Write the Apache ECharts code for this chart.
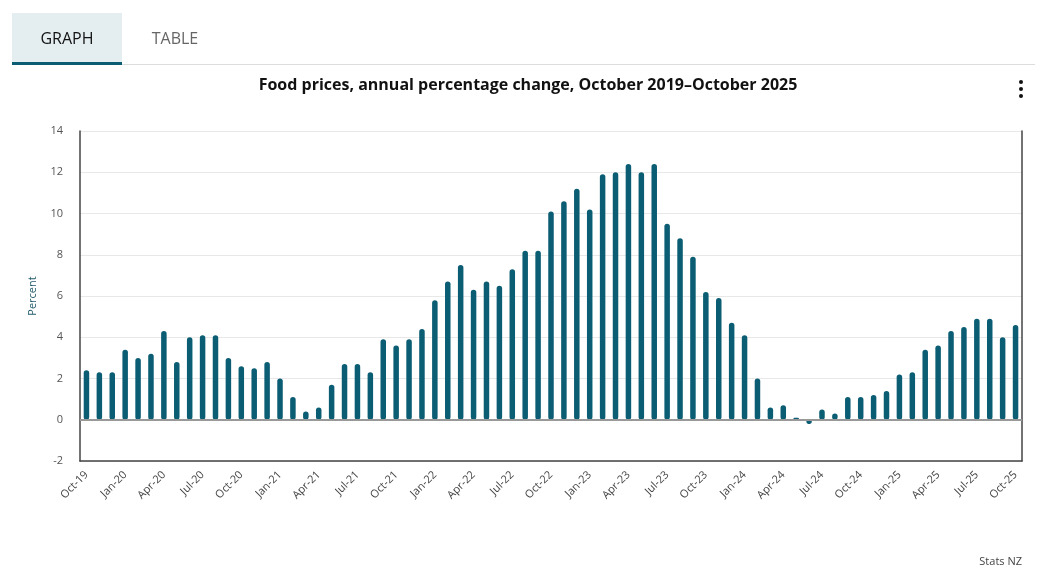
<!DOCTYPE html>
<html><head><meta charset="utf-8">
<script src="https://cdn.jsdelivr.net/npm/echarts@6/dist/echarts.min.js"></script>
<style>html,body{margin:0;padding:0;background:#fff}#c{width:1054px;height:583px}</style>
</head><body><div id="c"></div>
<script>
const categories = ["Oct-19","Nov-19","Dec-19","Jan-20","Feb-20","Mar-20","Apr-20","May-20","Jun-20","Jul-20","Aug-20","Sep-20",
"Oct-20","Nov-20","Dec-20","Jan-21","Feb-21","Mar-21","Apr-21","May-21","Jun-21","Jul-21","Aug-21","Sep-21",
"Oct-21","Nov-21","Dec-21","Jan-22","Feb-22","Mar-22","Apr-22","May-22","Jun-22","Jul-22","Aug-22","Sep-22",
"Oct-22","Nov-22","Dec-22","Jan-23","Feb-23","Mar-23","Apr-23","May-23","Jun-23","Jul-23","Aug-23","Sep-23",
"Oct-23","Nov-23","Dec-23","Jan-24","Feb-24","Mar-24","Apr-24","May-24","Jun-24","Jul-24","Aug-24","Sep-24",
"Oct-24","Nov-24","Dec-24","Jan-25","Feb-25","Mar-25","Apr-25","May-25","Jun-25","Jul-25","Aug-25","Sep-25","Oct-25"];
const foodPriceChange = [2.4,2.3,2.3,3.4,3.0,3.2,4.3,2.8,4.0,4.1,4.1,3.0,
2.6,2.5,2.8,2.0,1.1,0.4,0.6,1.7,2.7,2.7,2.3,3.9,
3.6,3.9,4.4,5.8,6.7,7.5,6.3,6.7,6.5,7.3,8.2,8.2,
10.1,10.6,11.2,10.2,11.9,12.0,12.4,12.0,12.4,9.5,8.8,7.9,
6.2,5.9,4.7,4.1,2.0,0.6,0.7,0.1,-0.2,0.5,0.3,1.1,
1.1,1.2,1.4,2.2,2.3,3.4,3.6,4.3,4.5,4.9,4.9,4.0,4.6];
const yTicks = {min:-2, max:14, interval:2};
const FONT = '"Open Sans", Lato, sans-serif';
const chart = echarts.init(document.getElementById('c'));
chart.setOption({
  animation:false,
  textStyle:{fontFamily:FONT},
  title:{text:'Food prices, annual percentage change, October 2019\u2013October 2025',left:523,textAlign:'center',top:72,
    textStyle:{fontSize:16,fontWeight:'bold',color:'#111',fontFamily:FONT}},
  graphic:[
    {type:'rect',shape:{x:12,y:13,width:110,height:50},style:{fill:'#e4eef1'}},
    {type:'rect',shape:{x:12,y:62,width:110,height:3},style:{fill:'#0b5d73'}},
    {type:'rect',shape:{x:122,y:64,width:913,height:1},style:{fill:'#dddddd'}},
    {type:'text',x:67,y:39,style:{text:'GRAPH',fontSize:16,fill:'#111',align:'center',verticalAlign:'middle',fontFamily:FONT}},
    {type:'text',x:175,y:39,style:{text:'TABLE',fontSize:16,fill:'#666',align:'center',verticalAlign:'middle',fontFamily:FONT}},
    {type:'circle',shape:{cx:1021,cy:82,r:2},style:{fill:'#111'}},
    {type:'circle',shape:{cx:1021,cy:89,r:2},style:{fill:'#111'}},
    {type:'circle',shape:{cx:1021,cy:96,r:2},style:{fill:'#111'}},
    {type:'text',x:1022,y:562,style:{text:'Stats NZ',fontSize:11,fill:'#444',align:'right',verticalAlign:'middle',fontFamily:FONT}}
  ],
  grid:{left:80,right:32,top:131,bottom:122},
  xAxis:{type:'category',data:categories,boundaryGap:true,
    axisLine:{onZero:false,lineStyle:{color:'#444',width:1.5}},
    axisTick:{alignWithLabel:true,interval:2,length:6,lineStyle:{color:'#aaa'}},
    axisLabel:{interval:2,rotate:45,fontSize:11,color:'#444',margin:12,fontFamily:FONT}},
  yAxis:[{type:'value',min:yTicks.min,max:yTicks.max,interval:yTicks.interval,
    name:'Percent',nameLocation:'middle',nameGap:42,nameTextStyle:{fontSize:11,color:'#1f5a6b',fontFamily:FONT},
    axisLine:{show:true,lineStyle:{color:'#444',width:1.5}},axisTick:{show:false},
    axisLabel:{fontSize:11,color:'#555',margin:17,fontFamily:FONT},
    splitLine:{lineStyle:{color:'#e8e8e8'}}},
    {type:'value',min:yTicks.min,max:yTicks.max,interval:yTicks.interval,position:'right',
    axisLine:{show:true,lineStyle:{color:'#444',width:1.5}},axisTick:{show:false},axisLabel:{show:false},splitLine:{show:false}}],
  series:[{type:'bar',data:foodPriceChange,barWidth:5.5,itemStyle:{color:'#0b5d73',borderRadius:2.75},
    markLine:{silent:true,symbol:'none',label:{show:false},lineStyle:{color:'#999',width:2,type:'solid'},data:[{yAxis:0}]}}]
});
</script></body></html>
